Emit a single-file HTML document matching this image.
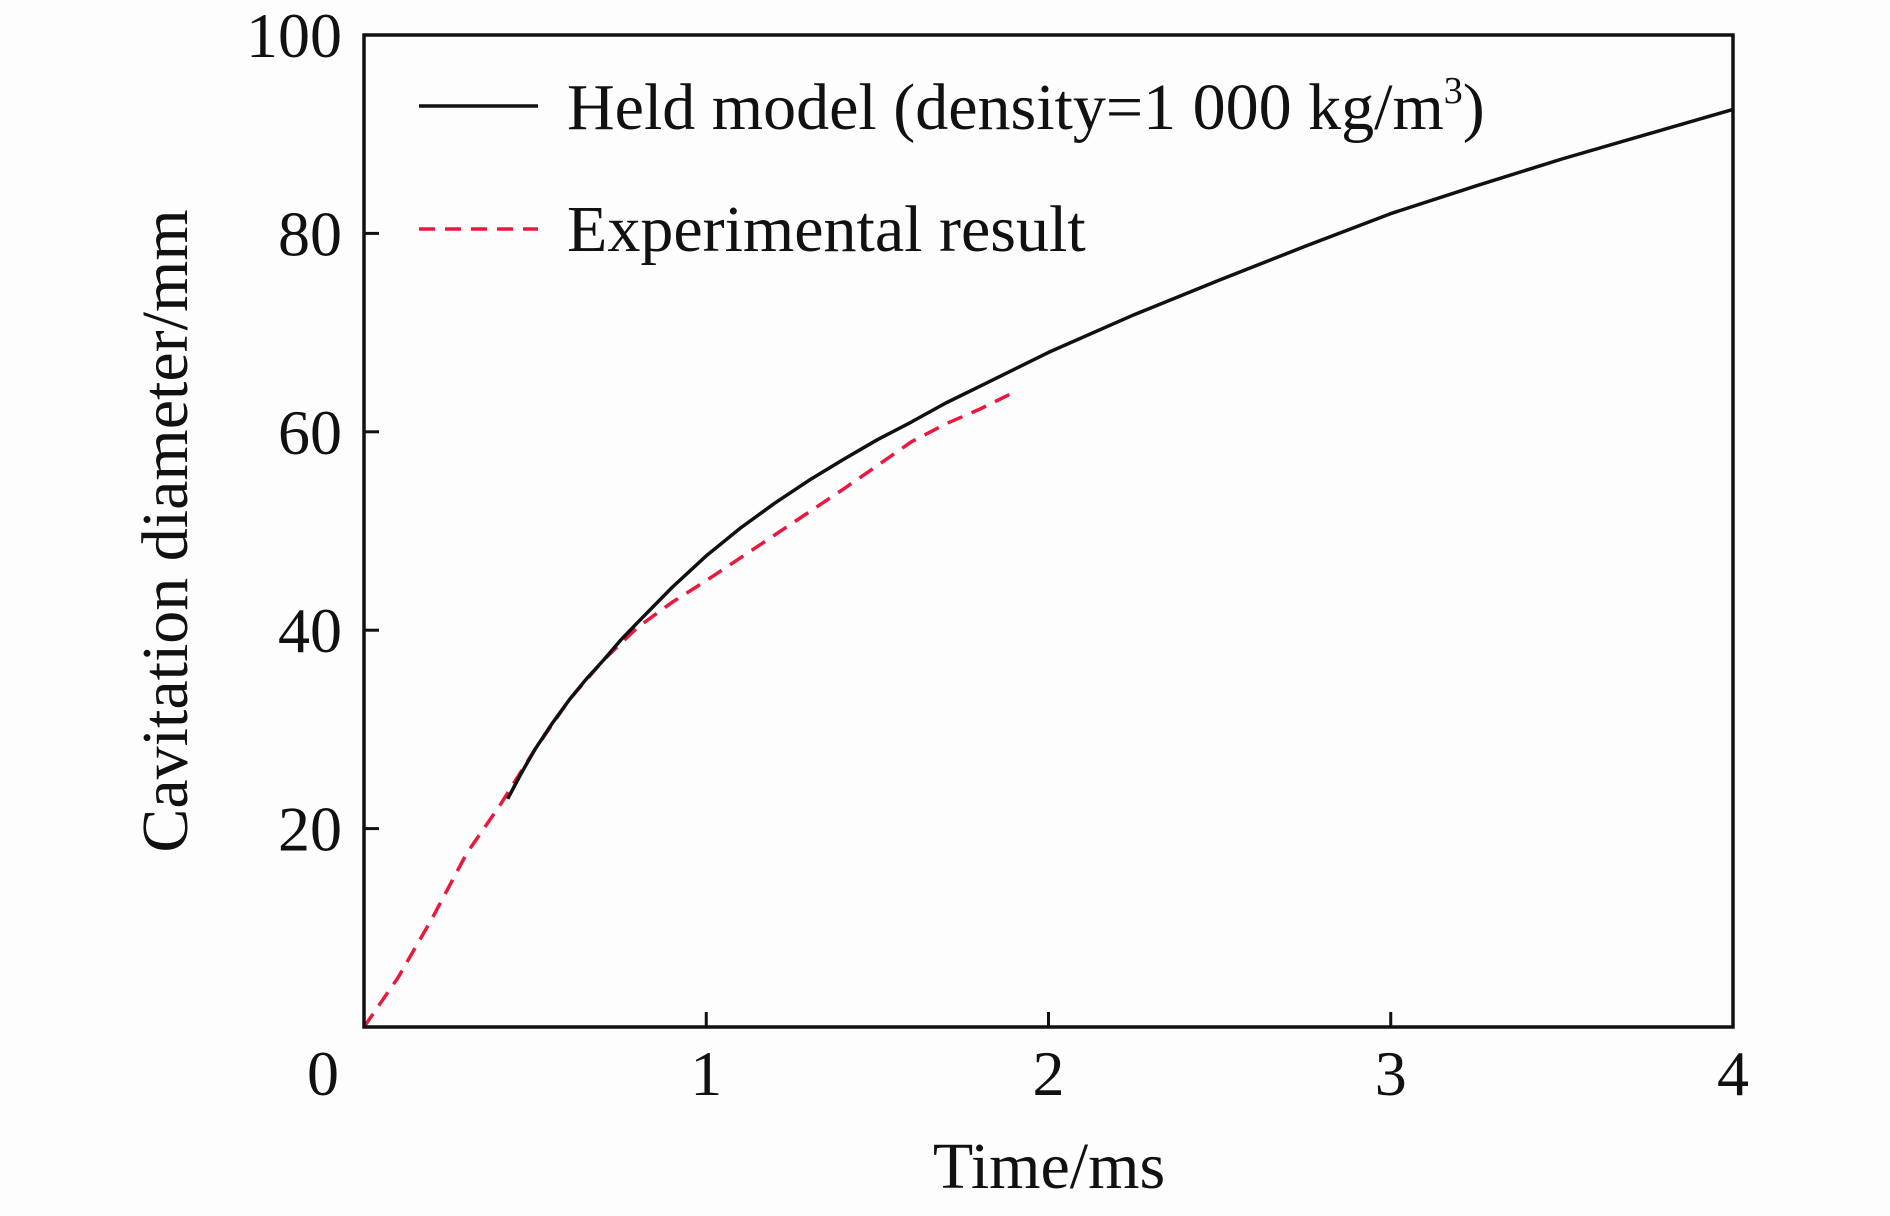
<!DOCTYPE html>
<html><head><meta charset="utf-8"><style>
html,body{margin:0;padding:0;background:#fdfdfd;}
svg text{font-family:"Liberation Serif",serif;fill:#111;}
</style></head><body>
<svg width="1890" height="1211" viewBox="0 0 1890 1211">
<g id="axes"></g>
<g id="series"></g>
<rect x="364" y="35" width="1369" height="992" fill="none" stroke="#111" stroke-width="3.5"/>
<text x="172" y="531" font-size="66" text-anchor="middle" transform="rotate(-90 172 531)" dominant-baseline="middle">Cavitation diameter/mm</text>
<text x="1049" y="1188" font-size="66" text-anchor="middle">Time/ms</text>
<g>
<line x1="419" y1="106" x2="538" y2="106" stroke="#111" stroke-width="3.5"/>
<text x="567" y="129" font-size="66">Held model (density=1 000 kg/m<tspan font-size="38" dy="-26">3</tspan><tspan dy="26">)</tspan></text>
<line x1="419" y1="229" x2="538" y2="229" stroke="#e8193c" stroke-width="3.5" stroke-dasharray="16,10"/>
<text x="567" y="251" font-size="66">Experimental result</text>
</g>
</svg>
<script>
const xTicks=[0,1,2,3,4];
const yTicks=[20,40,60,80,100];
const heldT=[0.42,0.46,0.5,0.55,0.6,0.65,0.7,0.75,0.8,0.9,1.0,1.1,1.2,1.3,1.4,1.5,1.6,1.7,1.8,1.9,2.0,2.25,2.5,2.75,3.0,3.25,3.5,3.75,4.0];
const heldD=[23,25.6,28,30.6,33,35.1,37,39,40.8,44.3,47.5,50.3,52.8,55.1,57.2,59.2,61,62.9,64.6,66.3,68,71.8,75.3,78.7,82,84.8,87.5,90,92.5];
const expT=[0,0.1,0.2,0.3,0.4,0.5,0.6,0.7,0.8,0.9,1.0,1.2,1.4,1.5,1.6,1.7,1.8,1.9];
const expD=[0,5,11,17.5,22.5,28,33,37,40.3,42.8,45,49.6,54.2,56.6,59,60.8,62.3,64];
const X=v=>364+v/4*1369, Y=v=>1027-v/100*992;
const ns='http://www.w3.org/2000/svg';
const ax=document.getElementById('axes'), se=document.getElementById('series');
xTicks.forEach(t=>{
 if(t>0&&t<4){const l=document.createElementNS(ns,'line');
 l.setAttribute('x1',X(t));l.setAttribute('x2',X(t));l.setAttribute('y1',1027);l.setAttribute('y2',1012);
 l.setAttribute('stroke','#111');l.setAttribute('stroke-width',3);
 
 ax.appendChild(l);}
 const tx=document.createElementNS(ns,'text');
 tx.setAttribute('x',t===0?X(t)-41:X(t));tx.setAttribute('y',1095);tx.setAttribute('font-size','64');tx.setAttribute('text-anchor','middle');
 tx.textContent=t;
 
 ax.appendChild(tx);
});
yTicks.forEach(t=>{
 if(t<100){const l=document.createElementNS(ns,'line');
 l.setAttribute('x1',364);l.setAttribute('x2',379);l.setAttribute('y1',Y(t));l.setAttribute('y2',Y(t));
 l.setAttribute('stroke','#111');l.setAttribute('stroke-width',3);
 
 ax.appendChild(l);}
 const tx=document.createElementNS(ns,'text');
 tx.setAttribute('x',342);tx.setAttribute('y',Y(t)+22);tx.setAttribute('font-size','64');tx.setAttribute('text-anchor','end');
 tx.textContent=t;
 
 ax.appendChild(tx);
});
function path(ts,ds,color,dash,name){
 const p=document.createElementNS(ns,'path');
 p.setAttribute('d',ts.map((t,i)=>(i?'L':'M')+X(t).toFixed(1)+','+Y(ds[i]).toFixed(1)).join(''));
 p.setAttribute('fill','none');p.setAttribute('stroke',color);p.setAttribute('stroke-width',3.5);
 p.setAttribute('stroke-linejoin','round');
 if(dash)p.setAttribute('stroke-dasharray',dash);
 
 se.appendChild(p);
}
path(expT,expD,'#e8193c','16,10','experimental-line');
path(heldT,heldD,'#111',null,'held-model-line');
</script>
</body></html>
